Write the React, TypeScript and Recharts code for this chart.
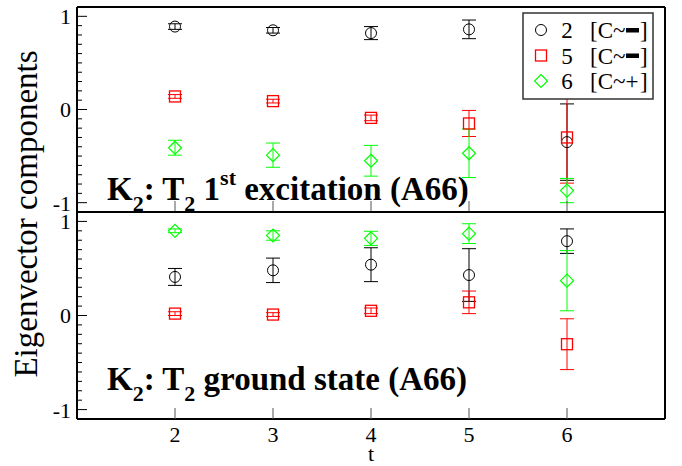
import { ScatterChart, Scatter, XAxis, YAxis, ErrorBar } from "recharts";

// time slices and axis ticks
const T_VALUES = [2, 3, 4, 5, 6];
const X_TICKS = [2, 3, 4, 5, 6];
const Y_TICKS = [
  -1, -0.9, -0.8, -0.7, -0.6, -0.5, -0.4, -0.3, -0.2, -0.1, 0, 0.1, 0.2, 0.3,
  0.4, 0.5, 0.6, 0.7, 0.8, 0.9, 1,
];

// 1st excitation
const EXC_OP2 = [0.89, 0.85, 0.82, 0.86, -0.35];
const EXC_OP2_ERR = [0.03, 0.03, 0.07, 0.1, 0.41];
const EXC_OP5 = [0.14, 0.09, -0.09, -0.15, -0.3];
const EXC_OP5_ERR = [0.02, 0.02, 0.03, 0.14, 0.49];
const EXC_OP6 = [-0.41, -0.49, -0.55, -0.47, -0.87];
const EXC_OP6_ERR = [0.08, 0.13, 0.165, 0.26, 0.13];

// ground state
const GND_OP2 = [0.41, 0.48, 0.54, 0.43, 0.79];
const GND_OP2_ERR = [0.09, 0.13, 0.18, 0.28, 0.13];
const GND_OP5 = [0.02, 0.01, 0.05, 0.14, -0.305];
const GND_OP5_ERR = [0.02, 0.02, 0.03, 0.12, 0.27];
const GND_OP6 = [0.9, 0.85, 0.82, 0.87, 0.37];
const GND_OP6_ERR = [0.02, 0.05, 0.075, 0.105, 0.32];

const BLACK = "#000000";
const RED = "#ff0000";
const GREEN = "#00ff00";

const FONT = '"Liberation Serif", "Times New Roman", serif';
const TICK_GAP = 8;
const X_DOMAIN: [number, number] = [1, 7];
const Y_DOMAIN: [number, number] = [-1.1, 1.1];

const rows = (vals: number[], errs: number[]) =>
  T_VALUES.map((t, i) => ({ t, y: vals[i], err: errs[i] }));

const isMajor = (v: number) => Math.abs(v - Math.round(v)) < 1e-6;

// inward ticks, drawn by hand since recharts only draws them outward
function LeftTick({ x, y, payload }: any) {
  const ax = x + TICK_GAP;
  const major = isMajor(payload.value);
  return (
    <g>
      <line x1={ax} x2={ax + (major ? 10 : 5)} y1={y} y2={y} stroke="#000" />
      {major && (
        <text x={ax - 6} y={y} dy="0.36em" textAnchor="end" fontSize={22} fontFamily={FONT} fill="#000">
          {Math.round(payload.value)}
        </text>
      )}
    </g>
  );
}

function RightTick({ x, y, payload }: any) {
  const ax = x - TICK_GAP;
  const major = isMajor(payload.value);
  return <line x1={ax} x2={ax - (major ? 10 : 5)} y1={y} y2={y} stroke="#000" />;
}

function TopTick({ x, y }: any) {
  const ay = y + TICK_GAP;
  return <line x1={x} x2={x} y1={ay} y2={ay + 11} stroke="#555" />;
}

function BottomTick({ x, y }: any) {
  const ay = y - TICK_GAP;
  return <line x1={x} x2={x} y1={ay} y2={ay - 11} stroke="#555" />;
}

function BottomTickLabelled({ x, y, payload }: any) {
  const ay = y - TICK_GAP;
  return (
    <g>
      <line x1={x} x2={x} y1={ay} y2={ay - 11} stroke="#555" />
      <text x={x} y={ay + 23} textAnchor="middle" fontSize={22} fontFamily={FONT} fill="#000">
        {payload.value}
      </text>
    </g>
  );
}

const Circle = ({ cx, cy, color = BLACK }: any) => (
  <circle cx={cx} cy={cy} r={5.5} fill="none" stroke={color} strokeWidth={1} />
);
const Square = ({ cx, cy, color = RED }: any) => (
  <rect x={cx - 5.5} y={cy - 5.5} width={11} height={11} fill="none" stroke={color} strokeWidth={1.3} />
);
const Diamond = ({ cx, cy, color = GREEN }: any) => (
  <path
    d={`M${cx},${cy - 6.5}L${cx + 6.5},${cy}L${cx},${cy + 6.5}L${cx - 6.5},${cy}Z`}
    fill="none"
    stroke={color}
    strokeWidth={1.2}
  />
);

const frameLine = { stroke: "#000", strokeWidth: 2 };

function Panel({
  op2,
  op5,
  op6,
  height,
  margin,
  bottomHeight,
  labelled,
}: {
  op2: any[];
  op5: any[];
  op6: any[];
  height: number;
  margin: any;
  bottomHeight: number;
  labelled: boolean;
}) {
  return (
    <ScatterChart width={682} height={height} margin={margin}>
      <XAxis
        xAxisId="top"
        orientation="top"
        type="number"
        domain={X_DOMAIN}
        ticks={X_TICKS}
        interval={0}
        height={1}
        tickSize={0}
        tickMargin={TICK_GAP}
        tickLine={false}
        axisLine={frameLine}
        tick={TopTick}
      />
      <XAxis
        xAxisId="main"
        dataKey="t"
        type="number"
        domain={X_DOMAIN}
        ticks={X_TICKS}
        interval={0}
        height={bottomHeight}
        tickSize={0}
        tickMargin={TICK_GAP}
        tickLine={false}
        axisLine={frameLine}
        tick={labelled ? BottomTickLabelled : BottomTick}
      />
      <YAxis
        yAxisId="left"
        dataKey="y"
        type="number"
        domain={Y_DOMAIN}
        ticks={Y_TICKS}
        interval={0}
        width={77}
        tickSize={0}
        tickMargin={TICK_GAP}
        tickLine={false}
        axisLine={frameLine}
        tick={LeftTick}
      />
      <YAxis
        yAxisId="right"
        orientation="right"
        type="number"
        domain={Y_DOMAIN}
        ticks={Y_TICKS}
        interval={0}
        width={1}
        tickSize={0}
        tickMargin={TICK_GAP}
        tickLine={false}
        axisLine={frameLine}
        tick={RightTick}
      />
      <Scatter data={op2} xAxisId="main" yAxisId="left" shape={Circle} isAnimationActive={false}>
        <ErrorBar dataKey="err" direction="y" width={7} stroke={BLACK} strokeWidth={1} />
      </Scatter>
      <Scatter data={op5} xAxisId="main" yAxisId="left" shape={Square} isAnimationActive={false}>
        <ErrorBar dataKey="err" direction="y" width={7} stroke={RED} strokeWidth={1} />
      </Scatter>
      <Scatter data={op6} xAxisId="main" yAxisId="left" shape={Diamond} isAnimationActive={false}>
        <ErrorBar dataKey="err" direction="y" width={7} stroke={GREEN} strokeWidth={1} />
      </Scatter>
    </ScatterChart>
  );
}

const LEGEND = [
  { num: "2", sign: "-", Shape: Circle },
  { num: "5", sign: "-", Shape: Square },
  { num: "6", sign: "+", Shape: Diamond },
];

export default function App() {
  return (
    <div
      style={{
        position: "absolute",
        left: 0,
        top: 0,
        width: 682,
        height: 466,
        background: "#fff",
        fontFamily: FONT,
      }}
    >
      <div style={{ position: "absolute", left: 0, top: 0 }}>
        <Panel
          op2={rows(EXC_OP2, EXC_OP2_ERR)}
          op5={rows(EXC_OP5, EXC_OP5_ERR)}
          op6={rows(EXC_OP6, EXC_OP6_ERR)}
          height={214}
          margin={{ top: 6, right: 16, bottom: 1, left: 0 }}
          bottomHeight={1}
          labelled={false}
        />
      </div>
      <div style={{ position: "absolute", left: 0, top: 211 }}>
        <Panel
          op2={rows(GND_OP2, GND_OP2_ERR)}
          op5={rows(GND_OP5, GND_OP5_ERR)}
          op6={rows(GND_OP6, GND_OP6_ERR)}
          height={255}
          margin={{ top: 0, right: 16, bottom: 0, left: 0 }}
          bottomHeight={47}
          labelled={true}
        />
      </div>

      <svg
        width={682}
        height={466}
        style={{ position: "absolute", left: 0, top: 0, pointerEvents: "none" }}
        fontFamily={FONT}
      >
        <text
          transform="translate(37,214) rotate(-90)"
          textAnchor="middle"
          fontSize={33}
          fill="#000"
        >
          Eigenvector components
        </text>
        <text x={371} y={461} textAnchor="middle" fontSize={22} fill="#000">
          t
        </text>

        <text x={107} y={200} fontSize={33} fontWeight="bold" fill="#000">
          K
          <tspan fontSize={22} dy={11}>2</tspan>
          <tspan dy={-11}>{": T"}</tspan>
          <tspan fontSize={22} dy={11}>2</tspan>
          <tspan dy={-11}>{" 1"}</tspan>
          <tspan fontSize={22} dy={-15}>st</tspan>
          <tspan dy={15}>{" excitation (A66)"}</tspan>
        </text>
        <text x={107} y={390} fontSize={33} fontWeight="bold" fill="#000">
          K
          <tspan fontSize={22} dy={11}>2</tspan>
          <tspan dy={-11}>{": T"}</tspan>
          <tspan fontSize={22} dy={11}>2</tspan>
          <tspan dy={-11}>{" ground state (A66)"}</tspan>
        </text>

        <rect x={523} y={13} width={130} height={86} fill="#fff" stroke="#333" strokeWidth={1.5} />
        {LEGEND.map(({ num, sign, Shape }, i) => {
          const cy = 30 + i * 25.5;
          return (
            <g key={num}>
              <Shape cx={541} cy={cy} />
              <text x={567} y={cy} dy="0.35em" textAnchor="middle" fontSize={23} fill="#000">
                {num}
              </text>
              <text x={590} y={cy} dy="0.35em" fontSize={23} fill="#000">
                {"[C~"}
              </text>
              {sign === "-" ? (
                <rect x={626} y={cy - 2} width={13} height={4.5} fill="#000" />
              ) : (
                <text x={632} y={cy} dy="0.35em" textAnchor="middle" fontSize={23} fill="#000">
                  +
                </text>
              )}
              <text x={640} y={cy} dy="0.35em" fontSize={23} fill="#000">
                ]
              </text>
            </g>
          );
        })}
      </svg>
    </div>
  );
}
